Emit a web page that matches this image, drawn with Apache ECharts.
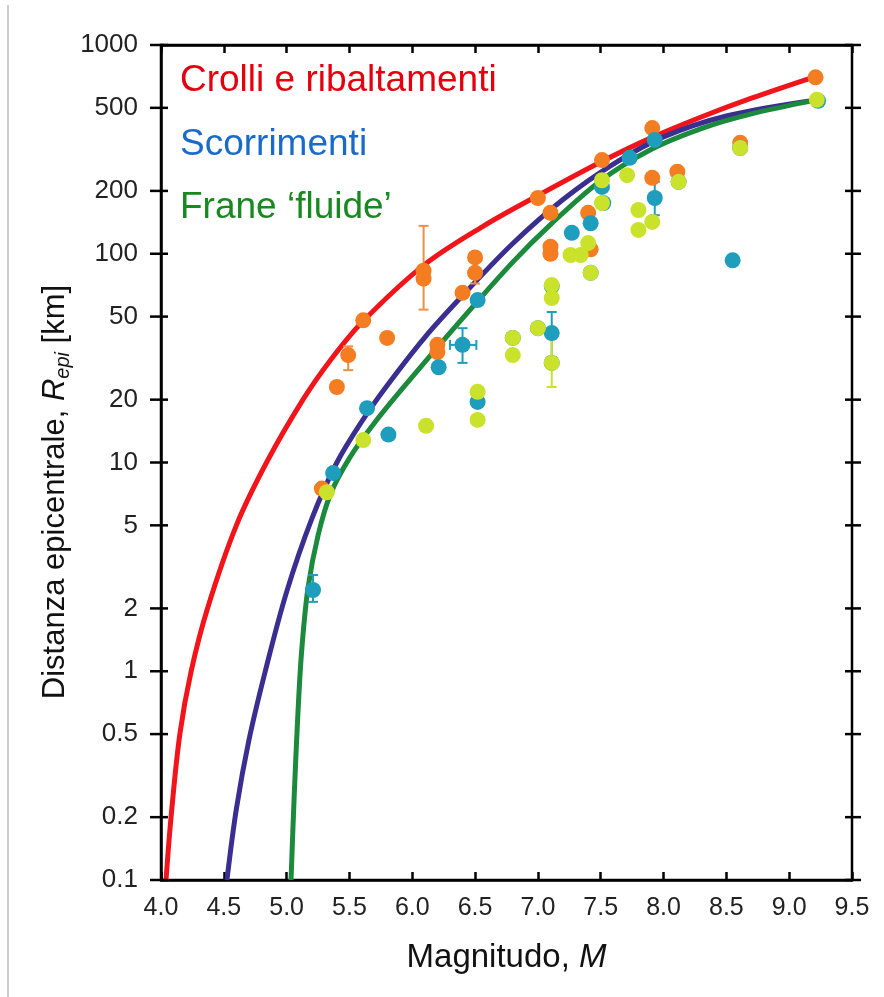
<!DOCTYPE html>
<html>
<head>
<meta charset="utf-8">
<script src="https://cdn.jsdelivr.net/npm/echarts@6/dist/echarts.min.js"></script>
<style>
  html, body { margin: 0; padding: 0; background: #fff; }
  #chart-box { width: 884px; height: 997px; }
</style>
</head>
<body>
<div id="chart-box"></div>
<script>
// y tick values (log axis, 1-2-5)
var yTicks = [0.1, 0.2, 0.5, 1, 2, 5, 10, 20, 50, 100, 200, 500, 1000];

// curves [M, Repi]
var curveCrolli = [[4.04, 0.1], [4.08, 0.2], [4.15, 0.5], [4.24, 1], [4.37, 2], [4.6, 5], [4.84, 10], [5.13, 20],
  [5.35, 31], [5.6, 47], [6.09, 88], [6.56, 135], [7.0, 190], [7.5, 275], [7.9, 359], [8.3, 452], [8.7, 556], [9.19, 700]];
var curveScorr = [[4.525, 0.1], [4.6, 0.219], [4.7, 0.468], [4.83, 1], [5.0, 2.4], [5.2, 5.37], [5.4, 10], [5.6, 15.8],
  [5.8, 23.4], [6.1, 39.8], [6.4, 63], [6.8, 112], [7.2, 182], [7.6, 269], [8.0, 363], [8.5, 457], [9.19, 543]];
var curveFluide = [[5.035, 0.1], [5.06, 0.251], [5.09, 0.631], [5.12, 1.26], [5.17, 2.51], [5.25, 4.47], [5.35, 7.08],
  [5.5, 10.5], [5.7, 15.5], [6.0, 25.7], [6.4, 49], [6.8, 91.2], [7.1, 138], [7.5, 224], [7.9, 316], [8.3, 398],
  [8.7, 468], [9.2, 543]];

// observed points [M, Repi]
var ptsCrolli = [[5.28, 7.5], [5.40, 23], [5.49, 32.7], [5.61, 48], [5.80, 39.5], [6.09, 83], [6.09, 76], [6.20, 36.6],
  [6.20, 33.8], [6.40, 65], [6.50, 96], [6.50, 81], [7.00, 185], [7.10, 157], [7.10, 108], [7.10, 100], [7.40, 157],
  [7.42, 105], [7.51, 281], [7.91, 400], [7.91, 231], [8.11, 247], [8.61, 340], [9.21, 700]];
var ptsScorr = [[5.21, 2.45], [5.37, 8.9], [5.64, 18.2], [5.81, 13.6], [6.21, 28.6], [6.40, 36.6], [6.52, 19.5],
  [6.52, 60], [6.80, 39.5], [7.00, 44], [7.11, 41.7], [7.11, 30], [7.11, 70], [7.27, 126], [7.42, 140], [7.42, 81],
  [7.51, 209], [7.52, 175], [7.73, 288], [7.93, 351], [7.93, 185], [8.12, 221], [8.55, 93], [8.61, 321], [9.23, 540]];
var ptsFluide = [[5.32, 7.2], [5.61, 12.8], [6.11, 15], [6.52, 21.8], [6.52, 16], [6.80, 39.5], [6.80, 32.7],
  [7.00, 44], [7.11, 70.8], [7.11, 61.4], [7.11, 30], [7.26, 98.6], [7.34, 98.6], [7.40, 112.5], [7.42, 81],
  [7.51, 225], [7.51, 175], [7.71, 238], [7.80, 162], [7.80, 130], [7.91, 142], [8.12, 221], [8.61, 321], [9.22, 546]];

// error bars: vertical [M, low, high], horizontal [Repi, Mlow, Mhigh]
var errCrolli = [[6.09, 54, 136], [6.50, 72, 81], [5.49, 27.7, 36]];
var errScorr = [[6.40, 30, 44], [7.11, 32, 52.6], [7.93, 153, 221], [5.21, 2.15, 2.89]];
var errFluide = [[7.11, 23, 39]];
var errScorrH = [[36.6, 6.30, 6.51]];

var xMin = 4.0, xMax = 9.5;
var cOrange = '#F47D22', cTeal = '#1E9DBD', cLime = '#CBE22C';
var font = '"Liberation Sans", Arial, sans-serif';

var myChart = echarts.init(document.getElementById('chart-box'));

function vErr(color) {
  return function (params, api) {
    var lo = api.coord([api.value(0), api.value(1)]);
    var hi = api.coord([api.value(0), api.value(2)]);
    var st = { stroke: color, lineWidth: 2 };
    return {
      type: 'group',
      children: [
        { type: 'line', shape: { x1: lo[0], y1: lo[1], x2: hi[0], y2: hi[1] }, style: st },
        { type: 'line', shape: { x1: lo[0] - 5, y1: lo[1], x2: lo[0] + 5, y2: lo[1] }, style: st },
        { type: 'line', shape: { x1: hi[0] - 5, y1: hi[1], x2: hi[0] + 5, y2: hi[1] }, style: st }
      ]
    };
  };
}

function hErr(color) {
  return function (params, api) {
    var a = api.coord([api.value(1), api.value(0)]);
    var b = api.coord([api.value(2), api.value(0)]);
    var st = { stroke: color, lineWidth: 2 };
    return {
      type: 'group',
      children: [
        { type: 'line', shape: { x1: a[0], y1: a[1], x2: b[0], y2: b[1] }, style: st },
        { type: 'line', shape: { x1: a[0], y1: a[1] - 5, x2: a[0], y2: a[1] + 5 }, style: st },
        { type: 'line', shape: { x1: b[0], y1: b[1] - 5, x2: b[0], y2: b[1] + 5 }, style: st }
      ]
    };
  };
}

// ticks and labels of the log axis at 1-2-5 values
function yTickRender(params, api) {
  var v = api.value(1);
  var l = api.coord([xMin, v]);
  var r = api.coord([xMax, v]);
  var st = { stroke: '#000', lineWidth: 2.5 };
  return {
    type: 'group',
    children: [
      { type: 'line', shape: { x1: l[0] - 11, y1: l[1], x2: l[0] + 7, y2: l[1] }, style: st },
      { type: 'line', shape: { x1: r[0] - 7, y1: r[1], x2: r[0] + 9, y2: r[1] }, style: st },
      { type: 'text', x: l[0] - 23, y: l[1], style: {
        text: String(v), align: 'right', verticalAlign: 'middle', fontSize: 26, fontFamily: font, fill: '#222' } }
    ]
  };
}

function scatter(name, data, color) {
  return {
    name: name, type: 'scatter', data: data, symbolSize: 16, z: 5,
    itemStyle: { color: color, opacity: 1 }
  };
}

function curve(data, color) {
  return {
    type: 'line', data: data, smooth: 0.35, showSymbol: false, z: 3,
    lineStyle: { color: color, width: 5 }
  };
}

var option = {
  animation: false,
  backgroundColor: '#fff',
  grid: { left: 161, right: 32, top: 45, bottom: 117, show: true, borderColor: '#000', borderWidth: 2.5 },
  xAxis: [{
    type: 'value', min: xMin, max: xMax, interval: 0.5,
    name: '{a|Magnitudo, }{i|M}', nameLocation: 'middle', nameGap: 61,
    nameTextStyle: { rich: {
      a: { fontSize: 33, fontFamily: font, color: '#111' },
      i: { fontSize: 33, fontFamily: font, color: '#111', fontStyle: 'italic' } } },
    axisLine: { lineStyle: { color: '#000', width: 2.5 } },
    axisTick: { inside: true, length: 8, lineStyle: { color: '#000', width: 2.5 } },
    axisLabel: { margin: 16, fontSize: 25, fontFamily: font, color: '#222',
      formatter: function (v) { return v.toFixed(1); } },
    splitLine: { show: false }
  }, {
    type: 'value', min: xMin, max: xMax, interval: 0.5, position: 'top',
    axisLine: { lineStyle: { color: '#000', width: 2.5 } },
    axisTick: { inside: true, length: 8, lineStyle: { color: '#000', width: 2.5 } },
    axisLabel: { show: false }, splitLine: { show: false }
  }],
  yAxis: {
    type: 'log', logBase: 10, min: 0.1, max: 1000,
    axisLine: { lineStyle: { color: '#000', width: 2.5 } },
    axisTick: { show: false },
    axisLabel: { show: false },
    splitLine: { show: false }
  },
  graphic: [
    { type: 'line', shape: { x1: 8, y1: 5, x2: 8, y2: 997 }, style: { stroke: '#bdbdbd', lineWidth: 1.5 } },
    { type: 'text', x: 55, y: 492, rotation: Math.PI / 2, style: {
      text: '{a|Distanza epicentrale, }{i|R}{s|epi}{a| [km]}', align: 'center', verticalAlign: 'middle',
      rich: {
        a: { fontSize: 31, fontFamily: font, fill: '#111' },
        i: { fontSize: 31, fontFamily: font, fill: '#111', fontStyle: 'italic' },
        s: { fontSize: 20, fontFamily: font, fill: '#111', fontStyle: 'italic', verticalAlign: 'bottom', padding: [16, 0, 0, 0] }
      } } },
    { type: 'text', left: 180, top: 62, style: { text: 'Crolli e ribaltamenti', fontSize: 37, fontFamily: font, fill: '#E3000F' } },
    { type: 'text', left: 180, top: 126, style: { text: 'Scorrimenti', fontSize: 37, fontFamily: font, fill: '#1A6BC9' } },
    { type: 'text', left: 180, top: 189, style: { text: 'Frane \u2018fluide\u2019', fontSize: 37, fontFamily: font, fill: '#17891F' } }
  ],
  series: [
    { type: 'custom', data: yTicks.map(function (v) { return [xMin, v]; }), renderItem: yTickRender, silent: true, z: 10 },
    curve(curveCrolli, '#F2141B'),
    curve(curveScorr, '#3A2E90'),
    curve(curveFluide, '#1B8A3C'),
    { type: 'custom', data: errCrolli, renderItem: vErr('#EE9048'), z: 4, silent: true },
    { type: 'custom', data: errScorr, renderItem: vErr(cTeal), z: 4, silent: true },
    { type: 'custom', data: errScorrH, renderItem: hErr(cTeal), z: 4, silent: true },
    { type: 'custom', data: errFluide, renderItem: vErr(cLime), z: 4, silent: true },
    scatter('Crolli e ribaltamenti', ptsCrolli, cOrange),
    scatter('Scorrimenti', ptsScorr, cTeal),
    scatter('Frane fluide', ptsFluide, cLime)
  ]
};

myChart.setOption(option);
</script>
</body>
</html>
